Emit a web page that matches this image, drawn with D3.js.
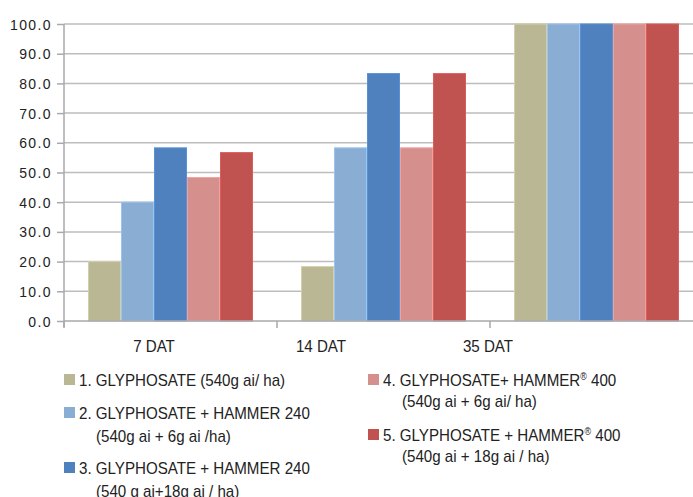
<!DOCTYPE html>
<html>
<head>
<meta charset="utf-8">
<script src="https://cdn.jsdelivr.net/npm/d3@7"></script>
<style>
  html, body { margin: 0; padding: 0; background: #fff; }
  svg { display: block; }
  .ytick text { font-family: "Liberation Sans", Arial, sans-serif; font-size: 14px; letter-spacing: 1.4px; fill: #222; }
  .cond { font-family: "Liberation Sans", Arial, sans-serif; fill: #222; }
</style>
</head>
<body>
<svg id="chart" width="693" height="497"></svg>
<script>
// Weed control (%) by days after treatment
const categories = ["7 DAT", "14 DAT", "35 DAT"];
const seriesNames = [
  "1. GLYPHOSATE (540g ai/ ha)",
  "2. GLYPHOSATE + HAMMER 240",
  "3. GLYPHOSATE + HAMMER 240",
  "4. GLYPHOSATE+ HAMMER® 400",
  "5. GLYPHOSATE + HAMMER® 400"
];
const seriesSubtitles = [
  "",
  "(540g ai + 6g ai /ha)",
  "(540 g ai+18g ai / ha)",
  "(540g ai + 6g ai/ ha)",
  "(540g ai + 18g ai / ha)"
];
const series1 = [20.0, 18.3, 100.0];
const series2 = [40.0, 58.3, 100.0];
const series3 = [58.3, 83.3, 100.0];
const series4 = [48.3, 58.3, 100.0];
const series5 = [56.7, 83.3, 100.0];
const seriesColors = ["#BAB795", "#89ADD3", "#4E81BD", "#D58F8D", "#C0524F"];
const yTicks = [0, 10, 20, 30, 40, 50, 60, 70, 80, 90, 100];

const allSeries = [series1, series2, series3, series4, series5];

const svg = d3.select("#chart");

const plotLeft = 64, plotRight = 703, plotTop = 24, plotBottom = 321;
const narrow = 0.89; // horizontal squeeze for the condensed label face

const x0 = d3.scaleBand().domain(categories).range([plotLeft, plotRight]).padding(0);
const x1 = d3.scaleBand().domain(d3.range(allSeries.length))
  .range([24, x0.bandwidth() - 24]).padding(0);
const y = d3.scaleLinear().domain([0, 100]).range([plotBottom, plotTop]);

// horizontal gridlines
svg.append("g")
  .selectAll("line")
  .data(yTicks.filter(t => t > 0))
  .join("line")
  .attr("x1", plotLeft).attr("x2", 693)
  .attr("y1", d => y(d)).attr("y2", d => y(d))
  .attr("stroke", "#BDBDBD").attr("stroke-width", 1.5);

// y axis
const yAxis = svg.append("g")
  .attr("class", "ytick")
  .attr("transform", `translate(${plotLeft},0)`)
  .call(d3.axisLeft(y).tickValues(yTicks).tickFormat(d3.format(".1f")).tickSize(7).tickPadding(5));
yAxis.select(".domain").attr("stroke", "#A9A9AD").attr("stroke-width", 1.5)
  .attr("d", `M0,${plotTop}V${plotBottom + 6}`);
yAxis.selectAll(".tick line").attr("stroke", "#A9A9AD").attr("stroke-width", 1.5);
yAxis.selectAll(".tick text").attr("dy", "0.36em");

// bars
const groups = svg.append("g")
  .selectAll("g")
  .data(categories)
  .join("g")
  .attr("transform", d => `translate(${x0(d)},0)`);

groups.selectAll("rect")
  .data((c, ci) => allSeries.map((s, si) => ({ si, v: s[ci] })))
  .join("rect")
  .attr("x", d => x1(d.si) + 0.5)
  .attr("width", x1.bandwidth() - 1)
  .attr("y", d => y(d.v))
  .attr("height", d => y(0) - y(d.v))
  .attr("fill", d => seriesColors[d.si])
  .attr("stroke", d => d3.color(seriesColors[d.si]).brighter(0.35))
  .attr("stroke-width", 1);

// x axis line and tick marks at category boundaries
svg.append("line")
  .attr("x1", plotLeft).attr("x2", 693)
  .attr("y1", plotBottom).attr("y2", plotBottom)
  .attr("stroke", "#A9A9AD").attr("stroke-width", 1.5);
svg.append("g")
  .selectAll("line")
  .data(categories)
  .join("line")
  .attr("x1", d => x0(d)).attr("x2", d => x0(d))
  .attr("y1", plotBottom).attr("y2", plotBottom + 7)
  .attr("stroke", "#A9A9AD").attr("stroke-width", 1.5);

// category labels
const xl = d3.scalePoint().domain(categories).range([154, 488]);
svg.append("g")
  .selectAll("text")
  .data(categories)
  .join("text")
  .attr("class", "cond")
  .attr("transform", d => `translate(${xl(d)},352) scale(${narrow},1)`)
  .attr("text-anchor", "middle")
  .attr("font-size", 17)
  .text(d => d);

// legend
const legendPos = [
  { x: 64, y: 386 },
  { x: 64, y: 419 },
  { x: 64, y: 474 },
  { x: 368, y: 386 },
  { x: 368, y: 441 }
];
const lineGap = [0, 23, 23, 21, 21];

const items = svg.append("g")
  .selectAll("g")
  .data(seriesNames.map((n, i) => ({ n, i })))
  .join("g")
  .attr("transform", d => `translate(${legendPos[d.i].x},${legendPos[d.i].y})`);

items.append("rect")
  .attr("x", 0).attr("y", -12)
  .attr("width", 11).attr("height", 11)
  .attr("fill", d => seriesColors[d.i]);

items.each(function (d) {
  const g = d3.select(this);
  const t = g.append("text").attr("class", "cond")
    .attr("transform", `translate(15,0) scale(${narrow},1)`)
    .attr("font-size", 17);
  const parts = d.n.split("®");
  t.append("tspan").text(parts[0]);
  if (parts.length > 1) {
    t.append("tspan").attr("font-size", 10).attr("dy", -6).text("®");
    t.append("tspan").attr("dy", 6).text(parts[1]);
  }
  if (seriesSubtitles[d.i]) {
    g.append("text").attr("class", "cond")
      .attr("transform", `translate(${d.i < 3 ? 32 : 34},${lineGap[d.i]}) scale(${narrow},1)`)
      .attr("font-size", 17)
      .text(seriesSubtitles[d.i]);
  }
});
</script>
</body>
</html>
